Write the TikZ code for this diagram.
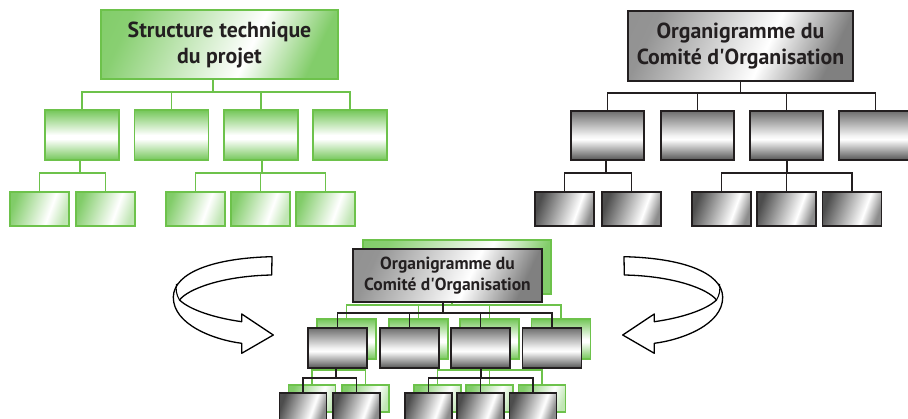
\documentclass[tikz,border=0pt]{standalone}
\usepackage{fontspec}
\setmainfont{PT Sans}
\usetikzlibrary{calc}

\definecolor{gline}{HTML}{6DC24B}
\definecolor{gfill}{HTML}{74C759}
\definecolor{kline}{HTML}{231F20}
\definecolor{kdark}{HTML}{555555}
\definecolor{txt}{HTML}{231F20}

% green shadings
\pgfdeclareverticalshading{gmidsh}{100bp}{color(0bp)=(gfill); color(25bp)=(gfill); color(46bp)=(white); color(50bp)=(white); color(75bp)=(gfill); color(100bp)=(gfill)}
\pgfdeclarehorizontalshading{gleafsh}{100bp}{color(0bp)=(gfill); color(25bp)=(gfill!90); color(60bp)=(white); color(75bp)=(gfill!45); color(100bp)=(gfill!45)}
\pgfdeclarehorizontalshading{gtopsh}{100bp}{color(0bp)=(gfill); color(25bp)=(gfill!85); color(58bp)=(white); color(75bp)=(gfill!90); color(100bp)=(gfill!90)}
% grey shadings
\pgfdeclareverticalshading{kmidsh}{100bp}{color(0bp)=(kdark); color(25bp)=(kdark); color(46bp)=(white); color(50bp)=(white!95!black); color(75bp)=(kdark!85!white); color(100bp)=(kdark!85!white)}
\pgfdeclarehorizontalshading{kleafsh}{100bp}{color(0bp)=(kdark); color(25bp)=(kdark!90!black); color(62bp)=(white); color(75bp)=(black!45); color(100bp)=(black!45)}
\pgfdeclarehorizontalshading{ktopsh}{100bp}{color(0bp)=(black!45); color(25bp)=(black!42); color(57bp)=(white); color(75bp)=(black!50); color(100bp)=(black!50)}

% outline of the curved ribbon arrow (pointing right)
\newcommand\ribbonarrow{%
  \draw[line width=1.3pt, line join=round, fill=white]
    (272,256.7) .. controls (215,258) and (174,272) .. (173.3,297)
    .. controls (173,325) and (215,340) .. (241.7,343.3)
    -- (241.7,353.3) -- (273.3,335) -- (241.7,314) -- (241.7,321.7)
    .. controls (215,318) and (190,310) .. (179.5,300)
    .. controls (188,289) and (222,276) .. (271.7,275) -- cycle;
  \draw[line width=1.1pt] (179.5,300) .. controls (176.5,295) and (175.5,290) .. (176.5,284);
}

\begin{document}
\begin{tikzpicture}[x=1pt,y=-1pt,
  box/.style={rectangle, inner sep=0pt, align=center, text=txt},
  gbox/.style={box, draw=gline, line width=1.8pt},
  kbox/.style={box, draw=kline, line width=1.8pt},
  gtop/.style={gbox, shading=gtopsh, shading angle=-25},
  gmid/.style={gbox, shading=gmidsh},
  gleaf/.style={gbox, shading=gleafsh, shading angle=-20},
  ktop/.style={kbox, shading=ktopsh, shading angle=-25},
  kmid/.style={kbox, shading=kmidsh},
  kleaf/.style={kbox, shading=kleafsh, shading angle=-20},
  gcon/.style={draw=gline, line width=1.8pt},
  kcon/.style={draw=kline, line width=1.8pt},
  bigtext/.style={font=\bfseries\fontsize{21.8}{26}\selectfont},
  smalltext/.style={font=\bfseries\fontsize{17.5}{21}\selectfont}]
\useasboundingbox (0,0) rectangle (908,419);

% ---------- left chart (green) ----------
\node[gtop, minimum width=237pt, minimum height=69pt, bigtext] (L) at (219.5,44.5) {Structure technique\\du projet};
\foreach \n/\x in {1/82,2/171.5,3/261,4/350}
  \node[gmid, minimum width=74pt, minimum height=50pt] (L\n) at (\x,135) {};
\foreach \n/\x in {1/39.5,2/105.5,3/195.5,4/260.5,5/325.5}
  \node[gleaf, minimum width=59pt, minimum height=34pt] (Ll\n) at (\x,209) {};
\coordinate (Lbus) at (213,92);
\coordinate (Lb1) at (80,173);
\coordinate (Lb3) at (262,173);
\draw[gcon] (L.south -| Lbus) -- (Lbus);
\draw[gcon] (L1.north) |- (Lbus) -| (L4.north);
\draw[gcon] (L2.north) -- (L2.north |- Lbus);
\draw[gcon] (L3.north) -- (L3.north |- Lbus);
\draw[gcon] (L1.south -| Lb1) -- (Lb1);
\draw[gcon] (Ll1.north) |- (Lb1) -| (Ll2.north);
\draw[gcon] (L3.south -| Lb3) -- (Lb3);
\draw[gcon] (Ll3.north) |- (Lb3) -| (Ll5.north);
\draw[gcon] (Ll4.north) -- (Ll4.north |- Lb3);

% ---------- right chart (grey) ----------
\node[ktop, minimum width=225pt, minimum height=70pt, bigtext] (R) at (740.5,46) {Organigramme du\\Comité d\textquotesingle Organisation};
\foreach \n/\x in {1/607.5,2/697.5,3/786.5,4/875.5}
  \node[kmid, minimum width=73pt, minimum height=49pt] (R\n) at (\x,135.5) {};
\foreach \n/\x in {1/564.5,2/631.5,3/721.5,4/786.5,5/852}
  \node[kleaf, minimum width=59pt, minimum height=34pt] (Rl\n) at (\x,209) {};
\coordinate (Rbus) at (740.5,93);
\coordinate (Rb1) at (606,173);
\coordinate (Rb3) at (787,173);
\draw[kcon] (R.south) -- (Rbus);
\draw[kcon] (R1.north) |- (Rbus) -| (R4.north);
\draw[kcon] (R2.north) -- (R2.north |- Rbus);
\draw[kcon] (R3.north) -- (R3.north |- Rbus);
\draw[kcon] (R1.south -| Rb1) -- (Rb1);
\draw[kcon] (Rl1.north) |- (Rb1) -| (Rl2.north);
\draw[kcon] (R3.south -| Rb3) -- (Rb3);
\draw[kcon] (Rl3.north) |- (Rb3) -| (Rl5.north);
\draw[kcon] (Rl4.north) -- (Rl4.north |- Rb3);

% ---------- merged chart: green layer behind ----------
\begin{scope}[gbox/.append style={line width=1.5pt}, gcon/.append style={line width=1.5pt}]
\node[gtop, minimum width=188pt, minimum height=54pt] (G) at (457,267) {};
\foreach \n/\x in {1/346.5,2/418.5,3/489.5,4/561}
  \node[gmid, minimum width=59pt, minimum height=40pt] (G\n) at (\x,339) {};
\foreach \n/\x in {1/312,2/365.5,3/437.5,4/489.5,5/542}
  \node[gleaf, minimum width=47pt, minimum height=27pt] (Gl\n) at (\x,398.5) {};
\coordinate (Gbus) at (452,305);
\coordinate (Gb1) at (345,370);
\coordinate (Gb3) at (490,370);
\draw[gcon] (G.south -| Gbus) -- (Gbus);
\draw[gcon] (G1.north) |- (Gbus) -| (G4.north);
\draw[gcon] (G2.north) -- (G2.north |- Gbus);
\draw[gcon] (G3.north) -- (G3.north |- Gbus);
\draw[gcon] (G1.south -| Gb1) -- (Gb1);
\draw[gcon] (Gl1.north) |- (Gb1) -| (Gl2.north);
\draw[gcon] (G3.south -| Gb3) -- (Gb3);
\draw[gcon] (Gl3.north) |- (Gb3) -| (Gl5.north);
\draw[gcon] (Gl4.north) -- (Gl4.north |- Gb3);
\end{scope}

% ---------- merged chart: grey layer in front ----------
\begin{scope}[kbox/.append style={line width=1.5pt}, kcon/.append style={line width=1.5pt}]
\node[ktop, minimum width=189pt, minimum height=53pt, smalltext] (K) at (447.5,275.5) {Organigramme du\\Comité d\textquotesingle Organisation};
\foreach \n/\x in {1/337.5,2/409.5,3/480.5,4/552}
  \node[kmid, minimum width=59pt, minimum height=40pt] (K\n) at (\x,348) {};
\foreach \n/\x in {1/303,2/356.5,3/428.5,4/480.5,5/533}
  \node[kleaf, minimum width=47pt, minimum height=27pt] (Kl\n) at (\x,406.5) {};
\coordinate (Kbus) at (443,313);
\coordinate (Kb1) at (336,378);
\coordinate (Kb3) at (481,378);
\draw[kcon] (K.south -| Kbus) -- (Kbus);
\draw[kcon] (K1.north) |- (Kbus) -| (K4.north);
\draw[kcon] (K2.north) -- (K2.north |- Kbus);
\draw[kcon] (K3.north) -- (K3.north |- Kbus);
\draw[kcon] (K1.south -| Kb1) -- (Kb1);
\draw[kcon] (Kl1.north) |- (Kb1) -| (Kl2.north);
\draw[kcon] (K3.south -| Kb3) -- (Kb3);
\draw[kcon] (Kl3.north) |- (Kb3) -| (Kl5.north);
\draw[kcon] (Kl4.north) -- (Kl4.north |- Kb3);
\end{scope}

% ---------- curved ribbon arrows ----------
\ribbonarrow
\begin{scope}[xshift=896pt, xscale=-1]
  \ribbonarrow
\end{scope}
\end{tikzpicture}
\end{document}
